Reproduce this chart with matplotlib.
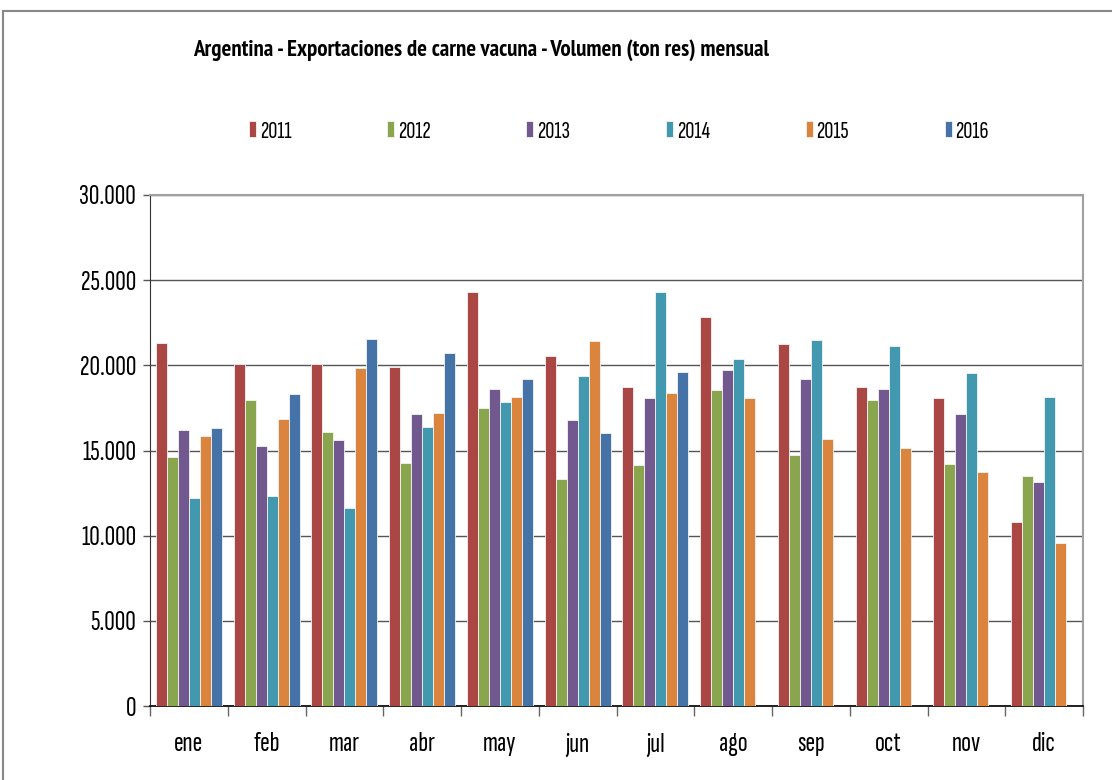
import numpy as np
import matplotlib
matplotlib.use("Agg")
import matplotlib.pyplot as plt
from matplotlib.lines import Line2D
from matplotlib.ticker import FuncFormatter, FixedLocator

plt.rcParams['font.family'] = ['Sofia Sans Extra Condensed', 'Archivo Narrow', 'DejaVu Sans']

meses = ['ene', 'feb', 'mar', 'abr', 'may', 'jun', 'jul', 'ago', 'sep', 'oct', 'nov', 'dic']
anios = ['2011', '2012', '2013', '2014', '2015', '2016']

v2011 = [21300, 20100, 20100, 19900, 24300, 20550, 18700, 22850, 21250, 18750, 18100, 10800]
v2012 = [14620, 17980, 16100, 14250, 17500, 13300, 14120, 18550, 14730, 17980, 14200, 13480]
v2013 = [16200, 15250, 15600, 17120, 18600, 16800, 18060, 19730, 19200, 18600, 17120, 13180]
v2014 = [12200, 12300, 11620, 16400, 17850, 19400, 24330, 20360, 21500, 21120, 19530, 18170]
v2015 = [15860, 16860, 19870, 17200, 18170, 21420, 18350, 18080, 15660, 15130, 13710, 9560]
v2016 = [16350, 18290, 21520, 20750, 19180, 16050, 19630]

series = [v2011, v2012, v2013, v2014, v2015, v2016]
colores = ['#AA4643', '#89A54E', '#71588F', '#4198AF', '#DB843D', '#4572A7']

fig = plt.figure(figsize=(11.12, 7.8), dpi=100)
ax = fig.add_axes([150/1112, 1 - 706/780, (1083 - 150)/1112, (706 - 195)/780])

ancho = 0.142
for i, (vals, col, lab) in enumerate(zip(series, colores, anios)):
    x = np.arange(len(vals)) + (i - 2.5) * ancho
    ax.bar(x, vals, width=ancho, color=col, edgecolor='#f4f4f4', linewidth=0.6,
           label=lab, zorder=3)

ax.set_xlim(-0.5, 11.5)
ax.set_ylim(0, 30000)
ax.set_yticks(np.arange(0, 30001, 5000))
ax.yaxis.set_major_formatter(FuncFormatter(lambda v, p: f'{int(v):,}'.replace(',', '.')))
ax.yaxis.grid(True, color='#555555', linewidth=1.0, zorder=0)
ax.tick_params(axis='y', labelsize=21, length=5, width=1, color='#555555', pad=5)

ax.set_xticks(np.arange(12))
ax.set_xticklabels(meses)
ax.xaxis.set_minor_locator(FixedLocator(np.arange(-0.5, 12, 1)))
ax.tick_params(axis='x', which='major', length=0, labelsize=21, pad=19)
ax.tick_params(axis='x', which='minor', length=7, width=1, color='#666666')

ax.spines['left'].set_color('#333333')
ax.spines['bottom'].set_color('#111111')
ax.spines['bottom'].set_linewidth(1.3)
ax.spines['top'].set_color('#a0a0a0')
ax.spines['right'].set_color('#a0a0a0')
ax.spines['top'].set_linewidth(1.5)
ax.spines['right'].set_linewidth(1.5)
ax.set_axisbelow(True)

fig.text(193/1112, 1 - 50/780, 'Argentina - Exportaciones de carne vacuna - Volumen (ton res) mensual',
         fontsize=16.5, fontweight='bold', ha='left', va='center',
         family=['PT Sans Narrow', 'Archivo Narrow', 'DejaVu Sans'])

handles, labels = ax.get_legend_handles_labels()
fig.legend(handles, labels, loc='center left', bbox_to_anchor=(249/1112, 1 - 132/780),
           ncol=6, frameon=False, fontsize=18, handlelength=0.28, handleheight=0.6,
           handletextpad=0.16, columnspacing=3.82, borderaxespad=0, borderpad=0)

# marco exterior
fig.add_artist(Line2D([3/1112, 1], [1 - 11/780, 1 - 11/780], color='#888888', linewidth=1.5))
fig.add_artist(Line2D([3/1112, 3/1112], [0, 1 - 11/780], color='#888888', linewidth=1.5))

fig.savefig('out.png', dpi=100)
